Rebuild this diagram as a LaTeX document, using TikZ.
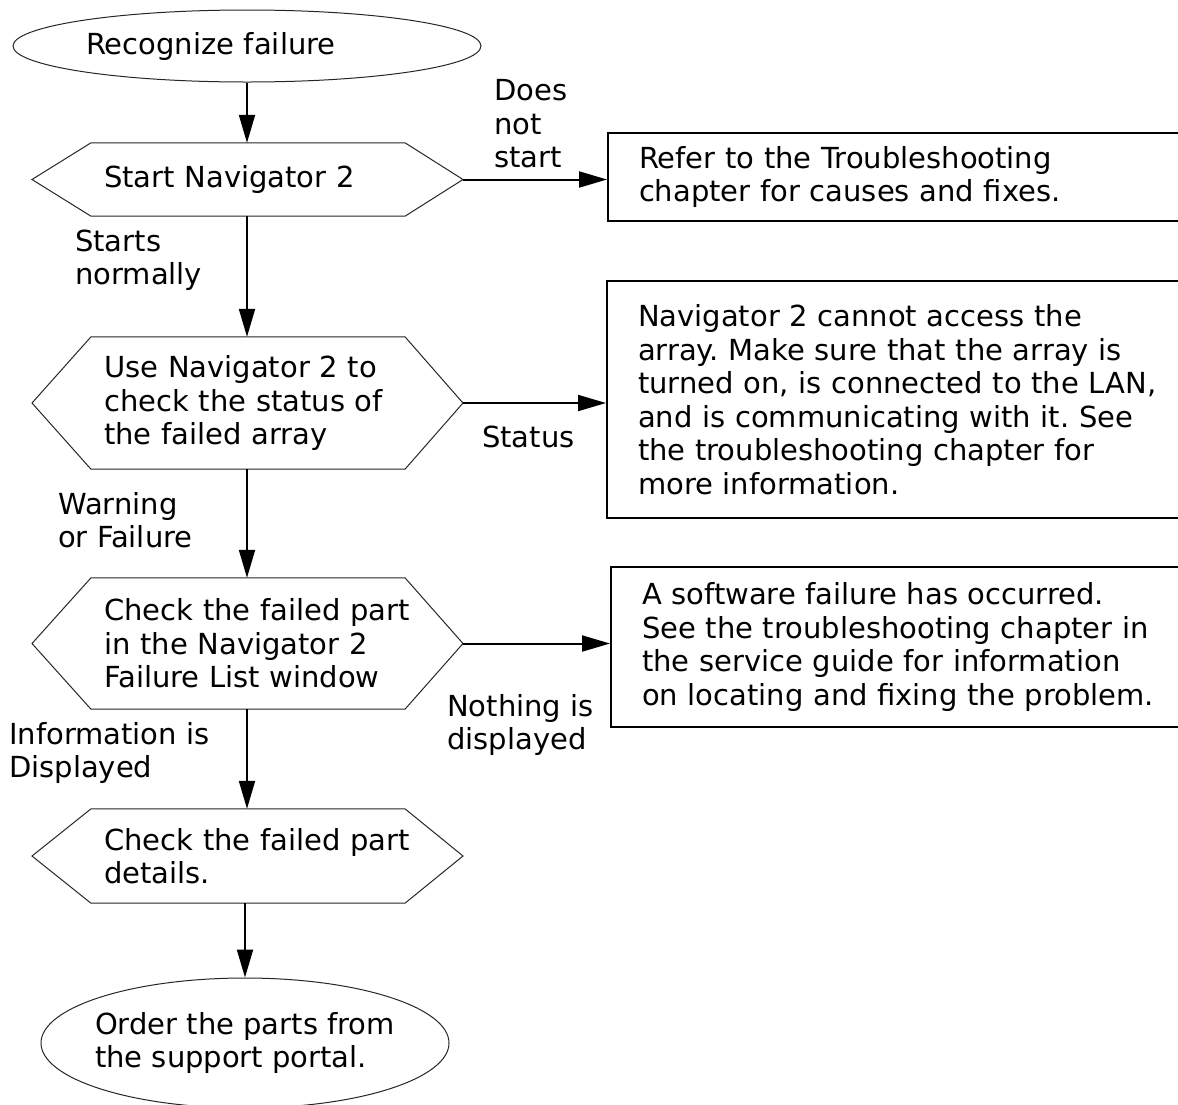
\documentclass[tikz,border=0pt]{standalone}
\usepackage{fontspec}
\setmainfont{DejaVu Sans}
\frenchspacing
\usetikzlibrary{positioning, arrows.meta, shapes.geometric}

% six-sided frame round a text node, corners on the lx/lc/rc/rx columns
\newcommand{\hexframe}[1]{%
  \draw[outline] (#1.west -| lx) -- (#1.north -| lc) -- (#1.north -| rc)
    -- (#1.east -| rx) -- (#1.south -| rc) -- (#1.south -| lc) -- cycle;}

\begin{document}
\begin{tikzpicture}[x=1pt, y=-1pt,
    every node/.style={font=\fontsize{29pt}{33.5pt}\selectfont},
    outline/.style={draw=black!85, line width=1pt},
    ends/.style={ellipse, outline, inner sep=0pt, align=left},
    hexa/.style={rectangle, inner sep=0pt, text width=310pt, align=left, minimum height=#1, anchor=west},
    note/.style={rectangle, draw, line width=2pt, inner xsep=31pt, inner ysep=0pt, minimum width=583pt, text width=521pt, align=left, anchor=west},
    lbl/.style={align=left, anchor=west, inner sep=0pt},
    arr/.style={-{Triangle[length=28pt, width=16pt]}, line width=2pt}
]
    \useasboundingbox (0,0) rectangle (1178,1104);

    \coordinate (lx) at (32,0);
    \coordinate (lc) at (91,0);
    \coordinate (rc) at (405,0);
    \coordinate (rx) at (463,0);
    \coordinate (mid) at (247,0);

    \node[ends, minimum width=468pt, minimum height=72pt, text width=322pt] (recog) at (247,46) {Recognize failure};
    \node[hexa=73pt] (start) at (104,179.5) {Start Navigator 2};
    \node[hexa=132pt] (status) at (104,403) {Use Navigator 2 to\\check the status of\\the failed array};
    \node[hexa=131pt] (faillist) at (104,643.5) {Check the failed part\\in the Navigator 2\\Failure List window};
    \node[hexa=94pt] (details) at (104,856) {Check the failed part\\details.};
    \node[ends, minimum width=408pt, minimum height=130pt, inner xsep=-10pt] (order) at (245,1043) {Order the parts from\\the support portal.};

    \hexframe{start}
    \hexframe{status}
    \hexframe{faillist}
    \hexframe{details}

    \node[note, minimum height=88pt] (refer) at (607,177) {Refer to the Troubleshooting\\chapter for causes and fixes.};
    \node[note, minimum height=237pt] (noaccess) at (606,399.5) {Navigator 2 cannot access the\\array. Make sure that the array is\\turned on, is connected to the LAN,\\and is communicating with it. See\\the troubleshooting chapter for\\more information.};
    \node[note, minimum height=160pt, minimum width=580pt, text width=518pt] (swfail) at (610,647) {A software failure has occurred.\\See the troubleshooting chapter in\\the service guide for information\\on locating and fixing the problem.};

    \node[lbl] (nostart) at (494,124) {Does\\not\\start};
    \node[lbl] (normal) at (75,260) {Starts\\normally};
    \node[lbl] (stat) at (482,437) {Status};
    \node[lbl] (warn) at (58,520) {Warning\\or Failure};
    \node[lbl] (nothing) at (447,725) {Nothing is\\displayed};
    \node[lbl] (info) at (9,753) {Information is\\Displayed};

    \draw[arr] (recog.south) -- (start.north -| mid);
    \draw[arr] (start.south -| mid) -- (status.north -| mid);
    \draw[arr] (status.south -| mid) -- (faillist.north -| mid);
    \draw[arr] (faillist.south -| mid) -- (details.north -| mid);
    \draw[arr] (details.south -| order.north) -- (order.north);

    \draw[arr] (start.east -| rx) -- (start.east -| refer.west);
    \draw[arr] (status.east -| rx) -- (status.east -| noaccess.west);
    \draw[arr] (faillist.east -| rx) -- (faillist.east -| swfail.west);

\end{tikzpicture}
\end{document}
